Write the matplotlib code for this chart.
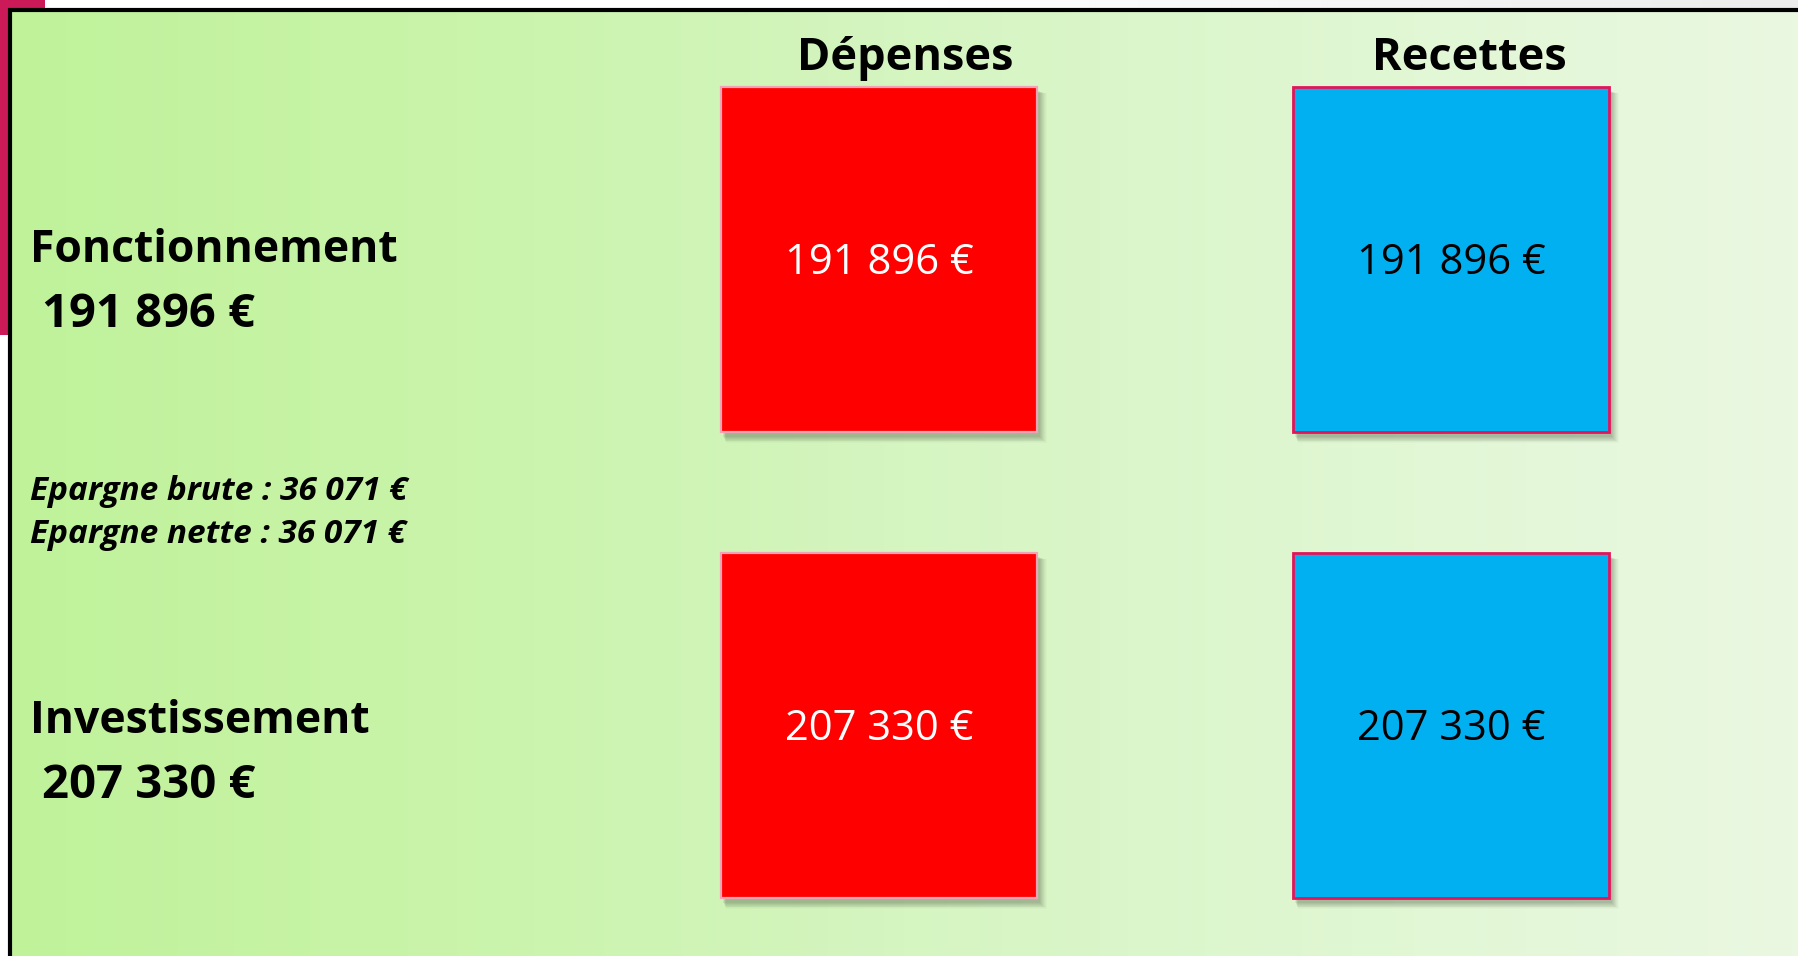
import matplotlib
matplotlib.use("Agg")
import matplotlib.pyplot as plt
import numpy as np
from matplotlib.patches import Rectangle
from matplotlib.colors import LinearSegmentedColormap

# ---- data ----
row_labels = ["Fonctionnement", "Investissement"]
col_labels = ["Dépenses", "Recettes"]
depenses = [191896, 207330]
recettes = [191896, 207330]
epargne_labels = ["Epargne brute", "Epargne nette"]
epargne_values = [36071, 36071]


def fmt(v):
    return f"{v:,}".replace(",", " ") + " €"


W, H = 1799, 956
fig = plt.figure(figsize=(W / 100, H / 100), dpi=100)
ax = fig.add_axes([0, 0, 1, 1])
ax.set_xlim(0, W)
ax.set_ylim(H, 0)
ax.axis("off")

FONT = "Open Sans"

# background: white top strip with light grey fade
top = LinearSegmentedColormap.from_list("t", ["#ffffff", "#ffffff", "#ececec"])
ax.imshow(np.linspace(0, 1, 256)[None, :], cmap=top, extent=(0, W, 10, 0),
          aspect="auto", zorder=0)
# green gradient panel
grad = LinearSegmentedColormap.from_list(
    "g", ["#c0f29a", "#c9f4aa", "#d5f5c1", "#e0f7d3", "#eaf8e1"])
ax.imshow(np.linspace(0, 1, 512)[None, :], cmap=grad, extent=(10, W, H, 10),
          aspect="auto", zorder=0)
# magenta strip on the left
ax.add_patch(Rectangle((0, 0), 8, 335, color="#cc1a58", lw=0, zorder=1))
ax.add_patch(Rectangle((0, 0), 45, 8, color="#cc1a58", lw=0, zorder=1))
# black frame (top + left)
ax.plot([10, 10, W], [H, 10, 10], color="black", lw=3.0, zorder=2,
        solid_joinstyle="miter")

# ---- layout ----
col_x = [721, 1293]
col_w = 316
row_y = [87, 553]
row_h = 345
head_dx = [26, 18]
fills = ["#ff0000", "#00b0f0"]
edges = ["#f4a2b6", "#e3145a"]
edge_lw = [1.6, 2.0]
txt_col = ["white", "black"]
values = [depenses, recettes]

for c in range(2):
    cx = col_x[c] + col_w / 2
    ax.text(cx + head_dx[c], 70, col_labels[c], ha="center", va="baseline",
            fontsize=32.5, fontweight="bold", family=FONT, color="black",
            zorder=5)
    for r in range(2):
        x0, y0 = col_x[c], row_y[r]
        # soft shadow
        for k, a in zip(range(8, 0, -1), np.linspace(0.03, 0.10, 8)):
            ax.add_patch(Rectangle((x0 + 2 + k * 0.4, y0 + 4 + k * 0.3),
                                   col_w + k * 0.6, row_h + k * 0.6,
                                   color="#5a6a50", alpha=a, lw=0, zorder=2))
        ax.add_patch(Rectangle((x0, y0), col_w, row_h, facecolor=fills[c],
                               edgecolor=edges[c], lw=edge_lw[c], zorder=3))
        ax.text(cx, y0 + row_h / 2 + 15, fmt(values[c][r]), ha="center",
                va="baseline", fontsize=30, family=FONT, color=txt_col[c],
                zorder=5)

# row labels
label_base = [262, 733]
for r in range(2):
    ax.text(30, label_base[r], row_labels[r], ha="left", va="baseline",
            fontsize=32, fontweight="bold", family=FONT, zorder=5)
    ax.text(42, label_base[r] + 65, fmt(depenses[r]), ha="left",
            va="baseline", fontsize=34, fontweight="bold", family=FONT,
            zorder=5)

# epargne lines
ep_base = [500, 543]
for i in range(2):
    ax.text(30, ep_base[i], f"{epargne_labels[i]} : {fmt(epargne_values[i])}",
            ha="left", va="baseline", fontsize=24, fontweight="bold",
            fontstyle="italic", family=FONT, zorder=5)

fig.savefig("out.png", dpi=100)
